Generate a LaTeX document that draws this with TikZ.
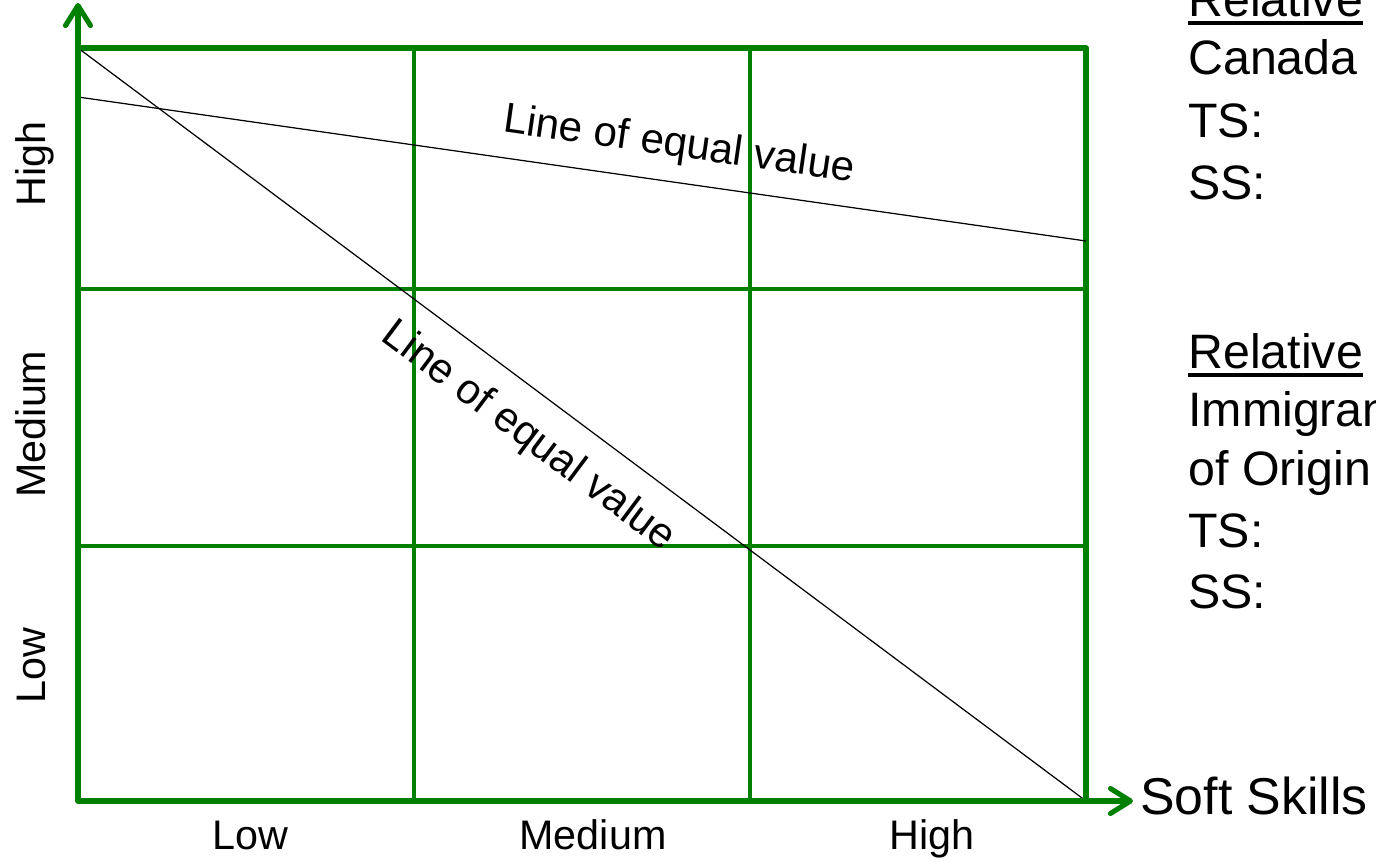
\documentclass[tikz,border=0pt]{standalone}
\usepackage{fontspec}
\setmainfont{Liberation Sans}
\usepackage{tikz}
\usetikzlibrary{arrows.meta,positioning}
\definecolor{gridGreen}{HTML}{008000}
\tikzset{
  axisline/.style={draw=gridGreen, line width=2.9pt, line cap=round, -{Straight Barb[length=4mm, width=5mm, round]}},
  gridframe/.style={draw=gridGreen, line width=2.9pt, line join=round},
  gridline/.style={draw=gridGreen, line width=2pt},
  valline/.style={draw=black, line width=0.7pt},
  axlabel/.style={font=\fontsize{23.5pt}{28pt}\selectfont, inner sep=0pt, anchor=base},
  eqlabel/.style={font=\fontsize{24pt}{28pt}\selectfont, inner sep=0pt},
  notetext/.style={font=\fontsize{27.5pt}{34pt}\selectfont, inner sep=0pt, anchor=base west},
  ulrule/.style={draw=black, line width=2.3pt},
}
\begin{document}
\begin{tikzpicture}[x=0.02cm, y=-0.02cm]
\clip (0,0) rectangle (1376,862);
% corners of the grid
\coordinate (O) at (78,801);
\coordinate (TL) at (78,48);
\coordinate (TR) at (1086,48);
\coordinate (BR) at (1086,801);
\coordinate (yTip) at (78,3);
\coordinate (xTip) at (1133,801);
% inner grid
\draw[gridline] (414,48) -- (414,801);
\draw[gridline] (750,48) -- (750,801);
\draw[gridline] (78,289) -- (1086,289);
\draw[gridline] (78,546) -- (1086,546);
\draw[gridframe] (TL) -- (TR) -- (BR);
% lines of equal value
\coordinate (a1) at (78,97);
\coordinate (a2) at (1086,241);
\draw[valline] (TL) -- (BR);
\draw[valline] (a1) -- (a2);
\node[eqlabel, rotate=-8.13] (eqA) at (679,146) {Line of equal value};
\node[eqlabel, rotate=-36.8] (eqB) at (528,437) {Line of equal value};
% axes
\draw[axisline] (O) -- (yTip);
\draw[axisline] (O) -- (xTip);
\node[notetext, font=\fontsize{29.5pt}{34pt}\selectfont] (soft) at (1140,814) {Soft Skills};
% axis labels
\node[axlabel] (xLow) at (250,849) {Low};
\node[axlabel] (xMed) at (593,849) {Medium};
\node[axlabel] (xHigh) at (932,849) {High};
\node[axlabel, rotate=90] (yHigh) at (45,164) {High};
\node[axlabel, rotate=90] (yMed) at (45,424) {Medium};
\node[axlabel, rotate=90] (yLow) at (45,666) {Low};
% notes on the right
\node[notetext] (rel1) at (1188,16) {Relative};
\draw[ulrule] ([yshift=-3.4pt]rel1.south west) -- ([yshift=-3.4pt]rel1.south east);
\node[notetext] (can) at (1188,74) {Canada};
\node[notetext] (ts1) at (1188,137) {TS:};
\node[notetext] (ss1) at (1188,199) {SS:};
\node[notetext] (rel2) at (1188,368) {Relative};
\draw[ulrule] ([yshift=-3.4pt]rel2.south west) -- ([yshift=-3.4pt]rel2.south east);
\node[notetext] (imm) at (1188,426) {Immigrant};
\node[notetext] (orig) at (1188,485) {of Origin};
\node[notetext] (ts2) at (1188,547) {TS:};
\node[notetext] (ss2) at (1188,608) {SS:};
\end{tikzpicture}
\end{document}
